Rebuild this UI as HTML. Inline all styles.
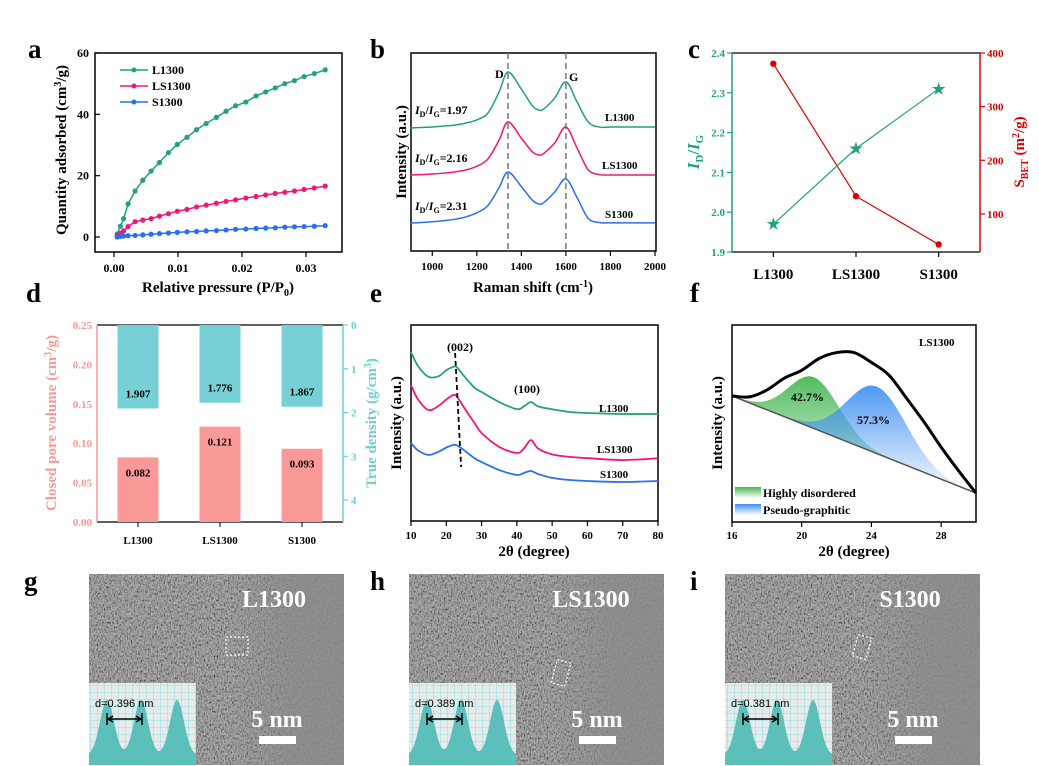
<!DOCTYPE html>
<html><head><meta charset="utf-8"><style>
html,body{margin:0;padding:0;background:#fff}
svg{display:block;font-family:"Liberation Serif",serif;font-weight:bold}
.t{font-size:12px}
.ti{font-size:15px}
.lt{font-size:27px}
</style></head><body>
<svg id="fig" width="1039" height="766" viewBox="0 0 1039 766">
<defs>
<filter id="noise" x="0" y="0" width="100%" height="100%" filterUnits="objectBoundingBox"><feTurbulence type="fractalNoise" baseFrequency="0.7 0.45" numOctaves="2" seed="5" result="n"/><feColorMatrix in="n" type="saturate" values="0" result="g"/><feComponentTransfer in="g"><feFuncR type="linear" slope="2.2" intercept="-0.65"/><feFuncG type="linear" slope="2.2" intercept="-0.65"/><feFuncB type="linear" slope="2.2" intercept="-0.65"/><feFuncA type="linear" slope="0" intercept="1"/></feComponentTransfer></filter>
<linearGradient id="gg" x1="0" y1="0" x2="0" y2="1"><stop offset="0" stop-color="#3fb54c"/><stop offset="1" stop-color="#3fb54c" stop-opacity="0.05"/></linearGradient>
<linearGradient id="gb" x1="0" y1="0" x2="0" y2="1"><stop offset="0" stop-color="#3b8df2"/><stop offset="1" stop-color="#3b8df2" stop-opacity="0.03"/></linearGradient>
<linearGradient id="lgg" x1="0" y1="0" x2="0" y2="1"><stop offset="0" stop-color="#3fb54c"/><stop offset="1" stop-color="#fff"/></linearGradient>
<linearGradient id="lgb" x1="0" y1="0" x2="0" y2="1"><stop offset="0" stop-color="#3b8df2"/><stop offset="1" stop-color="#fff"/></linearGradient>
<linearGradient id="temfade" x1="0" y1="0" x2="1" y2="0"><stop offset="0.55" stop-color="#8a8a8a" stop-opacity="0"/><stop offset="0.8" stop-color="#8a8a8a" stop-opacity="0.8"/><stop offset="1" stop-color="#8a8a8a" stop-opacity="0.85"/></linearGradient>
<pattern id="grid" width="7" height="7" patternUnits="userSpaceOnUse"><rect width="7" height="7" fill="#e6ecec"/><path d="M7 0V7M0 7H7" stroke="#7fd6d6" stroke-width="0.8"/></pattern>
</defs>

<text x="28" y="58" class="lt">a</text>
<text x="370" y="58" class="lt">b</text>
<text x="688" y="58" class="lt">c</text>
<text x="26" y="302" class="lt">d</text>
<text x="370" y="302" class="lt">e</text>
<text x="690" y="302" class="lt">f</text>
<text x="24" y="590" class="lt">g</text>
<text x="370" y="590" class="lt">h</text>
<text x="690" y="590" class="lt">i</text>

<g id="pa">
<rect x="95" y="53" width="247" height="199" fill="none" stroke="#000" stroke-width="1.5"/>
<text x="218" y="292" text-anchor="middle" class="ti">Relative pressure (P/P<tspan font-size="10" dy="4">0</tspan><tspan dy="-4">)</tspan></text>
<text transform="translate(66,150) rotate(-90)" text-anchor="middle" class="ti">Quantity adsorbed (cm<tspan font-size="10" dy="-5">3</tspan><tspan dy="5">/g)</tspan></text>
<g>
<line x1="120" y1="70" x2="148" y2="70" stroke="#22a07f" stroke-width="1.5"/><circle cx="134" cy="70" r="2.5" fill="#22a07f"/>
<text x="152" y="74" class="t">L1300</text>
<line x1="120" y1="86" x2="148" y2="86" stroke="#f0167a" stroke-width="1.5"/><circle cx="134" cy="86" r="2.5" fill="#f0167a"/>
<text x="152" y="90" class="t">LS1300</text>
<line x1="120" y1="102" x2="148" y2="102" stroke="#2a6ff2" stroke-width="1.5"/><circle cx="134" cy="102" r="2.5" fill="#2a6ff2"/>
<text x="152" y="106" class="t">S1300</text>
</g>
</g>

<g id="pb">
<rect x="411" y="53" width="245" height="198" fill="none" stroke="#000" stroke-width="1.5"/>
<text x="533" y="292" text-anchor="middle" class="ti">Raman shift (cm<tspan font-size="10" dy="-5">-1</tspan><tspan dy="5">)</tspan></text>
<text transform="translate(406,152) rotate(-90)" text-anchor="middle" class="ti">Intensity (a.u.)</text>
<text x="495" y="78" class="t">D</text>
<text x="569" y="81" class="t">G</text>
<text x="415" y="114" class="t"><tspan font-style="italic">I</tspan><tspan font-size="8" dy="3">D</tspan><tspan dy="-3">/</tspan><tspan font-style="italic">I</tspan><tspan font-size="8" dy="3">G</tspan><tspan dy="-3">=1.97</tspan></text>
<text x="415" y="162" class="t"><tspan font-style="italic">I</tspan><tspan font-size="8" dy="3">D</tspan><tspan dy="-3">/</tspan><tspan font-style="italic">I</tspan><tspan font-size="8" dy="3">G</tspan><tspan dy="-3">=2.16</tspan></text>
<text x="415" y="210" class="t"><tspan font-style="italic">I</tspan><tspan font-size="8" dy="3">D</tspan><tspan dy="-3">/</tspan><tspan font-style="italic">I</tspan><tspan font-size="8" dy="3">G</tspan><tspan dy="-3">=2.31</tspan></text>
<text x="605" y="121" font-size="11">L1300</text>
<text x="602" y="169" font-size="11">LS1300</text>
<text x="605" y="218" font-size="11">S1300</text>
</g>

<g id="pc">
<line x1="732" y1="53" x2="980" y2="53" stroke="#000" stroke-width="1.2"/>
<line x1="732" y1="252" x2="980" y2="252" stroke="#000" stroke-width="1.2"/>
<line x1="732" y1="53" x2="732" y2="252" stroke="#22a07f" stroke-width="1.5"/>
<line x1="980" y1="53" x2="980" y2="252" stroke="#d00" stroke-width="1.5"/>
<text transform="translate(699,152) rotate(-90)" text-anchor="middle" font-size="17" fill="#22a07f"><tspan font-style="italic">I</tspan><tspan font-size="11" dy="4">D</tspan><tspan dy="-4">/</tspan><tspan font-style="italic">I</tspan><tspan font-size="11" dy="4">G</tspan></text>
<text transform="translate(1024,152) rotate(-90)" text-anchor="middle" font-size="15" fill="#d00">S<tspan font-size="10" dy="4">BET</tspan><tspan dy="-4"> (m</tspan><tspan font-size="10" dy="-5">2</tspan><tspan dy="5">/g)</tspan></text>
</g>

<g id="pd">
<line x1="97" y1="325" x2="343" y2="325" stroke="#000" stroke-width="1.2"/>
<line x1="97" y1="522" x2="343" y2="522" stroke="#000" stroke-width="1.2"/>
<line x1="97" y1="325" x2="97" y2="522" stroke="#f59a98" stroke-width="1.5"/>
<line x1="343" y1="325" x2="343" y2="522" stroke="#6ccfd4" stroke-width="1.5"/>
<text transform="translate(56,423) rotate(-90)" text-anchor="middle" font-size="15" fill="#f59a98">Closed pore volume (cm<tspan font-size="10" dy="-5">3</tspan><tspan dy="5">/g)</tspan></text>
<text transform="translate(376,423) rotate(-90)" text-anchor="middle" font-size="15" fill="#6ccfd4">True density (g/cm<tspan font-size="10" dy="-5">3</tspan><tspan dy="5">)</tspan></text>
</g>

<g id="pe">
<rect x="411" y="325" width="247" height="196" fill="none" stroke="#000" stroke-width="1.5"/>
<text x="534" y="556" text-anchor="middle" class="ti">2θ (degree)</text>
<text transform="translate(401,423) rotate(-90)" text-anchor="middle" class="ti">Intensity (a.u.)</text>
<text x="447" y="351" font-size="12">(002)</text>
<text x="514" y="393" font-size="12">(100)</text>
<text x="599" y="412" font-size="11">L1300</text>
<text x="597" y="453" font-size="11">LS1300</text>
<text x="600" y="478" font-size="11">S1300</text>
</g>

<g id="pf">
<rect x="732" y="325" width="244" height="197" fill="none" stroke="#000" stroke-width="1.5"/>
<text x="854" y="556" text-anchor="middle" class="ti">2θ (degree)</text>
<text transform="translate(722,423) rotate(-90)" text-anchor="middle" class="ti">Intensity (a.u.)</text>
<text x="919" y="346" font-size="11">LS1300</text>
<rect x="735" y="487" width="26" height="11" fill="url(#lgg)"/>
<text x="763" y="497" font-size="12">Highly disordered</text>
<rect x="735" y="504" width="26" height="11" fill="url(#lgb)"/>
<text x="763" y="514" font-size="12">Pseudo-graphitic</text>
</g>

<g id="temg"></g>
<g id="temh"></g>
<g id="temi"></g>
</svg>

<script>
const adsP = [0.0005,0.001,0.0015,0.0022,0.0033,0.0045,0.0058,0.0071,0.0085,0.0099,0.0114,0.0129,0.0144,0.016,0.0175,0.019,0.0206,0.0222,0.0237,0.0252,0.0267,0.0282,0.0297,0.0313,0.033];
const adsL = [1,3.5,6,10.8,15,18.5,21.5,24.3,27.5,30.2,32.5,35,37,39,41,42.8,44,46,47.3,48.6,50,51,52.3,53.3,54.5];
const adsLS = [0.5,1.2,2,3.4,5,5.5,6,6.8,7.6,8.4,9,9.8,10.4,11,11.6,12.1,12.7,13.2,13.7,14.2,14.6,15,15.5,16,16.6];
const adsS = [0,0.2,0.3,0.4,0.5,0.7,0.9,1.1,1.3,1.5,1.7,1.8,2,2.1,2.3,2.5,2.6,2.8,2.9,3.0,3.2,3.3,3.4,3.5,3.7];
const adsYTicks = [0,20,40,60];
const adsXTicks = [0,0.01,0.02,0.03];
const adsXLabels = ["0.00","0.01","0.02","0.03"];

const ramanX = [900,950,1000,1050,1100,1150,1200,1250,1300,1340,1400,1450,1480,1500,1550,1600,1650,1700,1750,1800,1900,2000];
const ramanL = [62.1,62.4,62.6,63.1,63.6,64.6,66.2,69.7,80.3,90.4,81.8,73.2,71.2,71.7,77.3,85.4,75.3,65.2,62.6,62.6,62.6,62.6];
const ramanLS = [38.4,38.6,38.9,39.3,39.9,40.9,42.8,46.5,56,65.2,57,50,48.5,49.2,54.6,62.6,52,41,38.6,38.4,38.4,38.4];
const ramanS = [14.1,14.4,14.8,15.3,16,17.2,19.3,23,32,39.9,32.5,25.6,23.7,24.4,29.8,36.4,27,16.5,14.4,14.2,14.2,14.2];
const ramanTicks = [1000,1200,1400,1600,1800,2000];
const ramanBands = [1340,1600];

const samples = ["L1300","LS1300","S1300"];
const ratioIDIG = [1.97,2.16,2.31];
const sbet = [380,133,43];
const ratioTicks = [1.9,2.0,2.1,2.2,2.3,2.4];
const sbetTicks = [100,200,300,400];

const poreVol = [0.082,0.121,0.093];
const trueDens = [1.907,1.776,1.867];
const poreTicks = [0,0.05,0.10,0.15,0.20,0.25];
const densTicks = [0,1,2,3,4];

const xrdX = [10,12,15,18,20,22,23,25,28,30,35,40,42,44,46,50,55,60,70,80];
const xrdL = [86.2,79,73.5,74,77,78.6,78.5,74,68,65.8,60.7,57.1,58.5,60.7,58.5,57,55.6,55.1,54.6,54.6];
const xrdLS = [69.4,62,56.6,59,62,64.3,63.5,58,50,44.9,37.8,34.7,37,41.3,37,34,32.7,32.1,31.1,32];
const xrdS = [39.8,36,33.7,35.5,37.5,38.8,38.6,36.2,32,30.1,26,23.5,24.5,25.5,24,22,20.9,20.4,19.9,20.4];
const xrdTicks = [10,20,30,40,50,60,70,80];

const fitX = [16,17,18,19,20,21,22,23,24,25,26,27,28,29,30];
const fitY = [64,63.5,67,73,77,83,86,86,81,74.6,63,51,38,26,14.7];
const fitBase = [64,14.7];
const peakCenter = [20.7,24.3];
const peakAmp = [26,34];
const peakSigma = [1.45,1.7];
const fitTicks = [16,20,24,28];

const temLabels = ["L1300","LS1300","S1300"];
const dSpacing = ["d=0.396 nm","d=0.389 nm","d=0.381 nm"];

const NS = "http://www.w3.org/2000/svg";
function mk(parent, tag, attrs, txt){const e=document.createElementNS(NS,tag);for(const k in attrs)e.setAttribute(k,attrs[k]);if(txt!==undefined)e.textContent=txt;parent.appendChild(e);return e;}
function smooth(pts){let d="M"+pts[0][0]+","+pts[0][1];for(let i=0;i<pts.length-1;i++){const p0=pts[Math.max(0,i-1)],p1=pts[i],p2=pts[i+1],p3=pts[Math.min(pts.length-1,i+2)];const c1=[p1[0]+(p2[0]-p0[0])/6,p1[1]+(p2[1]-p0[1])/6],c2=[p2[0]-(p3[0]-p1[0])/6,p2[1]-(p3[1]-p1[1])/6];d+=" C"+c1[0]+","+c1[1]+" "+c2[0]+","+c2[1]+" "+p2[0]+","+p2[1];}return d;}
function lin(d0,d1,r0,r1){return v=>r0+(v-d0)/(d1-d0)*(r1-r0);}

(function(){
const g=document.getElementById("pa");
const X=lin(0,0.03,114,306), Y=lin(0,60,237,53);
adsYTicks.forEach(v=>{
 const t=mk(g,"line",{x1:95,x2:100,y1:Y(v),y2:Y(v),stroke:"#000","stroke-width":1.2});
 
 
 const l=mk(g,"text",{x:89,y:Y(v)+4,"text-anchor":"end",class:"t"},String(v));
 
 
});
adsXTicks.forEach((v,i)=>{
 const t=mk(g,"line",{x1:X(v),x2:X(v),y1:252,y2:257,stroke:"#000","stroke-width":1.2});
 
 
 const l=mk(g,"text",{x:X(v),y:272,"text-anchor":"middle",class:"t"},adsXLabels[i]);
 
 
});
[[adsL,"#22a07f","l1300"],[adsLS,"#f0167a","ls1300"],[adsS,"#2a6ff2","s1300"]].forEach(([arr,c,n])=>{
 const pts=adsP.map((p,i)=>[X(p),Y(arr[i])]);
 const pl=mk(g,"polyline",{points:pts.map(p=>p.join(",")).join(" "),fill:"none",stroke:c,"stroke-width":1.5});
 
 
 adsP.forEach((p,i)=>{
  const m=mk(g,"circle",{cx:X(p),cy:Y(arr[i]),r:2.6,fill:c});
  
  
 });
});
})();

(function(){
const g=document.getElementById("pb");
const X=lin(900,2000,410,655), Y=lin(0,100,251,53);
ramanTicks.forEach(v=>{
 const t=mk(g,"line",{x1:X(v),x2:X(v),y1:251,y2:256,stroke:"#000","stroke-width":1.2});
 
 
 const l=mk(g,"text",{x:X(v),y:270,"text-anchor":"middle","font-size":11},String(v));
 
 
});
ramanBands.forEach(v=>{
 const d=mk(g,"line",{x1:X(v),x2:X(v),y1:53,y2:251,stroke:"#777","stroke-width":1.5,"stroke-dasharray":"6,4"});
 
 
});
[[ramanL,"#22a07f","l1300"],[ramanLS,"#f0167a","ls1300"],[ramanS,"#2a6ff2","s1300"]].forEach(([arr,c,n])=>{
 const p=mk(g,"path",{d:smooth(ramanX.map((x,i)=>[X(x),Y(arr[i])])),fill:"none",stroke:c,"stroke-width":1.5});
 
 
});
})();

(function(){
const g=document.getElementById("pc");
const X=lin(-0.5,2.5,732,980), YL=lin(1.9,2.4,252,53), YR=lin(29,400,252,53);
ratioTicks.forEach(v=>{
 const t=mk(g,"line",{x1:727,x2:732,y1:YL(v),y2:YL(v),stroke:"#22a07f","stroke-width":1.2});
 
 
 const l=mk(g,"text",{x:725,y:YL(v)+4,"text-anchor":"end","font-size":11,fill:"#22a07f"},v.toFixed(1));
 
 
});
sbetTicks.forEach(v=>{
 const t=mk(g,"line",{x1:980,x2:985,y1:YR(v),y2:YR(v),stroke:"#d00","stroke-width":1.2});
 
 
 const l=mk(g,"text",{x:987,y:YR(v)+4,"font-size":11,fill:"#d00"},String(v));
 
 
});
samples.forEach((s,i)=>{
 const t=mk(g,"line",{x1:X(i),x2:X(i),y1:252,y2:257,stroke:"#000","stroke-width":1.2});
 
 
 const l=mk(g,"text",{x:X(i),y:279,"text-anchor":"middle","font-size":15},s);
 
 
});
const pr=mk(g,"polyline",{points:sbet.map((v,i)=>X(i)+","+YR(v)).join(" "),fill:"none",stroke:"#d00","stroke-width":1.2});


const pg=mk(g,"polyline",{points:ratioIDIG.map((v,i)=>X(i)+","+YL(v)).join(" "),fill:"none",stroke:"#22a07f","stroke-width":1.2});


sbet.forEach((v,i)=>{
 const m=mk(g,"circle",{cx:X(i),cy:YR(v),r:3.2,fill:"#d00"});
 
 
});
ratioIDIG.forEach((v,i)=>{
 const m=mk(g,"text",{x:X(i),y:YL(v)+5,"text-anchor":"middle","font-size":15,fill:"#22a07f"},"★");
 
 
});
})();

(function(){
const g=document.getElementById("pd");
const X=lin(-0.5,2.5,97,343), YL=lin(0,0.25,522,325), YR=lin(0,4.5,325,522);
poreTicks.forEach(v=>{
 const l=mk(g,"text",{x:92,y:YL(v)+4,"text-anchor":"end","font-size":11,fill:"#f59a98"},v.toFixed(2));
 
 
});
densTicks.forEach(v=>{
 const t=mk(g,"line",{x1:343,x2:348,y1:YR(v),y2:YR(v),stroke:"#6ccfd4","stroke-width":1.2});
 
 
 const l=mk(g,"text",{x:351,y:YR(v)+4,"font-size":11,fill:"#6ccfd4"},String(v));
 
 
});
samples.forEach((s,i)=>{
 const b=mk(g,"rect",{x:X(i)-20.5,y:YL(poreVol[i]),width:41,height:522-YL(poreVol[i]),fill:"#f99a98"});
 
 
 const bl=mk(g,"text",{x:X(i),y:YL(poreVol[i])+19,"text-anchor":"middle","font-size":11},poreVol[i].toFixed(3));
 
 
 const c=mk(g,"rect",{x:X(i)-20.5,y:325,width:41,height:YR(trueDens[i])-325,fill:"#76d0d6"});
 
 
 const cl=mk(g,"text",{x:X(i),y:YR(trueDens[i])-11,"text-anchor":"middle","font-size":11},trueDens[i].toFixed(3));
 
 
 const t=mk(g,"line",{x1:X(i),x2:X(i),y1:522,y2:527,stroke:"#000","stroke-width":1});
 
 
 const l=mk(g,"text",{x:X(i),y:544,"text-anchor":"middle","font-size":11},s);
 
 
});
})();

(function(){
const g=document.getElementById("pe");
const X=lin(10,80,411,658), Y=lin(0,100,521,325);
xrdTicks.forEach(v=>{
 const t=mk(g,"line",{x1:X(v),x2:X(v),y1:521,y2:526,stroke:"#000","stroke-width":1.2});
 
 
 const l=mk(g,"text",{x:X(v),y:539,"text-anchor":"middle","font-size":11},String(v));
 
 
});
[[xrdL,"#22a07f","l1300"],[xrdLS,"#f0167a","ls1300"],[xrdS,"#2a6ff2","s1300"]].forEach(([arr,c,n])=>{
 const p=mk(g,"path",{d:smooth(xrdX.map((x,i)=>[X(x),Y(arr[i])])),fill:"none",stroke:c,"stroke-width":1.8});
 
 
});
const dl=mk(g,"line",{x1:X(22.5),y1:353,x2:X(24.2),y2:467,stroke:"#000","stroke-width":1.8,"stroke-dasharray":"5,3"});


})();

(function(){
const g=document.getElementById("pf");
const X=lin(16,30,732,976), Y=lin(0,100,522,325);
fitTicks.forEach(v=>{
 const t=mk(g,"line",{x1:X(v),x2:X(v),y1:522,y2:527,stroke:"#000","stroke-width":1.2});
 
 
 const l=mk(g,"text",{x:X(v),y:539,"text-anchor":"middle","font-size":11},String(v));
 
 
});
const base=x=>fitBase[0]+(x-16)/14*(fitBase[1]-fitBase[0]);
const fills=["url(#gg)","url(#gb)"], names=["disordered-peak-area","graphitic-peak-area"];
peakCenter.forEach((c,k)=>{
 const top=[],bot=[];
 for(let x=16;x<=30.001;x+=0.1){top.push([X(x),Y(base(x)+peakAmp[k]*Math.exp(-((x-c)**2)/(2*peakSigma[k]**2)))]);bot.push([X(x),Y(base(x))]);}
 const d="M"+top.map(p=>p.join(",")).join(" L")+" L"+bot.reverse().map(p=>p.join(",")).join(" L")+"Z";
 const a=mk(g,"path",{d:d,fill:fills[k],"fill-opacity":0.9});
 
 
});
const bl=mk(g,"line",{x1:X(16),y1:Y(fitBase[0]),x2:X(30),y2:Y(fitBase[1]),stroke:"#555","stroke-width":1.5});


const dp=mk(g,"path",{d:smooth(fitX.map((x,i)=>[X(x),Y(fitY[i])])),fill:"none",stroke:"#000","stroke-width":3});


const t1=mk(g,"text",{x:791,y:401,"font-size":12},"42.7%");


const t2=mk(g,"text",{x:857,y:424,"font-size":12},"57.3%");


})();

[["temg",89],["temh",409],["temi",725]].forEach(([id,x0],k)=>{
 const g=document.getElementById(id);
 const bg=mk(g,"rect",{x:x0,y:574,width:255,height:191,fill:"#7b7b7b"});
 
 
 const tx=mk(g,"rect",{x:x0,y:574,width:255,height:191,filter:"url(#noise)",opacity:0.5});
 
 
 const fd=mk(g,"rect",{x:x0,y:574,width:255,height:191,fill:"url(#temfade)"});
 
 
 const lab=mk(g,"text",{x:x0+(k===1?182:185),y:607,"text-anchor":"middle","font-size":24,fill:"#fff"},temLabels[k]);
 
 
 const sc=mk(g,"text",{x:x0+188,y:727,"text-anchor":"middle","font-size":24,fill:"#fff"},"5 nm");
 
 
 const sb=mk(g,"rect",{x:x0+170,y:736,width:37,height:8,fill:"#fff"});
 
 
 const box=mk(g,"rect",{x:x0+[137,145,130][k],y:[637,661,636][k],width:[22,14,14][k],height:[18,24,22][k],fill:"none",stroke:"#fff","stroke-width":1.2,"stroke-dasharray":"2,2",transform:k===0?"":"rotate(15 "+(x0+[137,152,137][k])+" "+([637,673,647][k])+")"});
 
 
 const ins=mk(g,"rect",{x:x0,y:683,width:107,height:82,fill:"url(#grid)"});
 
 
 let d="M"+x0+",765";
 const pk=[x0+18,x0+52,x0+88];
 for(let x=0;x<=107;x+=1){let y=0;pk.forEach(c=>{y+=Math.exp(-((x0+x-c)**2)/(2*7*7));});d+=" L"+(x0+x)+","+(765-10-y*55);}
 d+=" L"+(x0+107)+",765Z";
 const pf=mk(g,"path",{d:d,fill:"#5cbfb9"});
 
 
 const ar=mk(g,"path",{d:"M"+(x0+18)+",713 V725 M"+(x0+53)+",713 V725 M"+(x0+19)+",719 H"+(x0+52)+" M"+(x0+19)+",719 l5,-3 M"+(x0+19)+",719 l5,3 M"+(x0+52)+",719 l-5,-3 M"+(x0+52)+",719 l-5,3",stroke:"#000","stroke-width":1.5,fill:"none"});
 
 
 const dt=mk(g,"text",{x:x0+6,y:707,"font-family":"Liberation Sans, sans-serif","font-weight":"normal","font-size":11},dSpacing[k]);
 
 
});
</script>
</body></html>
